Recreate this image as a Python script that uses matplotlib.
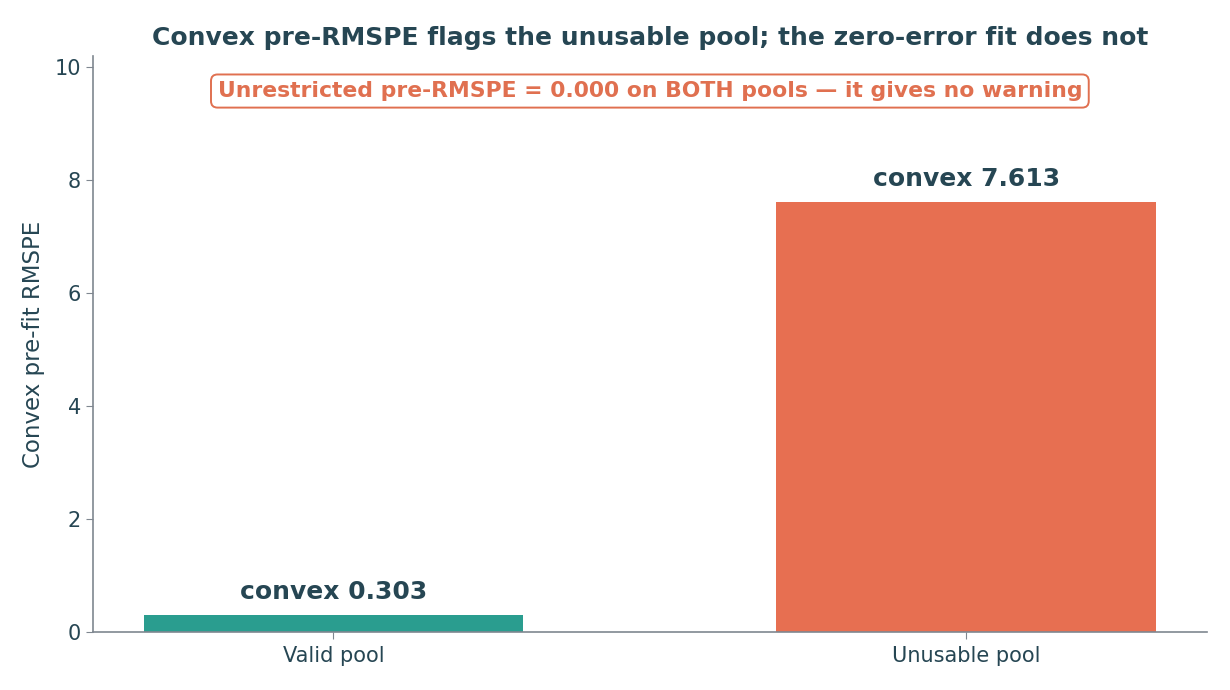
import matplotlib
matplotlib.use("Agg")
import matplotlib.pyplot as plt

pools = ["Valid pool", "Unusable pool"]
convex_rmspe = [0.303, 7.613]
bar_colors = ["#2a9d8f", "#e76f51"]

TEXT = "#264653"
SPINE = "#7f8790"

fig = plt.figure(figsize=(12.3, 6.9), dpi=100)
ax = fig.add_axes([0.0756, 0.084, 0.9055, 0.835])

x = range(len(pools))
bars = ax.bar(x, convex_rmspe, width=0.6, color=bar_colors)
for b, v in zip(bars, convex_rmspe):
    ax.text(b.get_x() + b.get_width() / 2, v + 0.2, "convex %.3f" % v,
            ha="center", va="bottom", fontsize=18, fontweight="bold", color=TEXT)

ax.set_xticks(list(x))
ax.set_xticklabels(pools)
ax.set_ylim(0, 10.2)
ax.set_yticks([0, 2, 4, 6, 8, 10])
ax.set_ylabel("Convex pre-fit RMSPE", fontsize=16.5, color=TEXT, labelpad=7)
ax.tick_params(labelsize=15, colors=TEXT, length=5)
ax.tick_params(axis="x", pad=5)
ax.tick_params(axis="both", color=SPINE)
for s in ["top", "right"]:
    ax.spines[s].set_visible(False)
for s in ["left", "bottom"]:
    ax.spines[s].set_color(SPINE)
    ax.spines[s].set_linewidth(1.2)

ax.set_title("Convex pre-RMSPE flags the unusable pool; the zero-error fit does not",
             fontsize=18, fontweight="bold", color=TEXT, pad=8)

ax.text(0.5, 0.939, "Unrestricted pre-RMSPE = 0.000 on BOTH pools \u2014 it gives no warning",
        transform=ax.transAxes, ha="center", va="center", fontsize=15.75,
        fontweight="bold", color="#e07050",
        bbox=dict(boxstyle="round,pad=0.3", fc="white", ec="#e07050", lw=1.4))

fig.savefig("out.png", dpi=100)
